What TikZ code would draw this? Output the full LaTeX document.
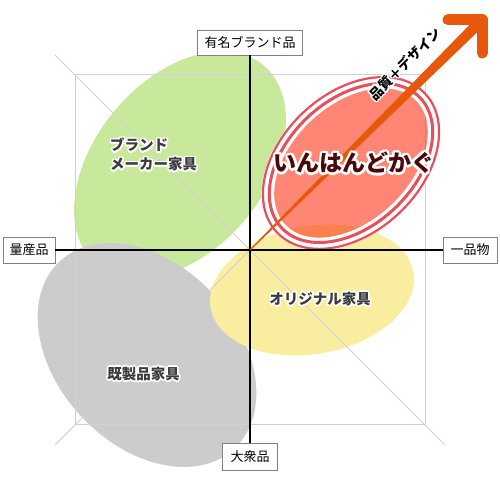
\documentclass[tikz,border=0pt]{standalone}
\usepackage{fontspec}
\setmainfont{Noto Sans CJK JP}
\usepackage{tikz}

\definecolor{brandgreen}{RGB}{200,233,156}
\definecolor{stockgray}{RGB}{204,204,204}
\definecolor{origyellow}{RGB}{249,238,160}
\definecolor{handred}{RGB}{255,60,30}
\definecolor{ringred}{RGB}{232,78,92}
\definecolor{arroworange}{RGB}{232,88,12}
\definecolor{guidegray}{RGB}{208,208,216}
\definecolor{boxgray}{RGB}{130,130,130}
\definecolor{txtgray}{RGB}{60,60,60}
\definecolor{titlered}{RGB}{72,10,10}

\begin{document}
\begin{tikzpicture}[x=1pt,y=1pt]
\tikzstyle{tag} = [draw=boxgray, fill=white, line width=0.8pt, inner sep=0pt, font=\fontsize{13}{13}\selectfont]
\tikzstyle{grp} = [inner sep=0pt, align=left, font=\fontsize{14.5}{19}\selectfont\bfseries]
\tikzstyle{title} = [inner sep=0pt, font=\fontsize{23}{23}\selectfont\bfseries]
\tikzstyle{claim} = [inner sep=0pt, rotate=45, font=\fontsize{13.5}{13.5}\selectfont\bfseries]
\tikzstyle{guide} = [draw=guidegray, line width=1pt]

\useasboundingbox (0,0) rectangle (500,500);

% market groups
\fill[brandgreen, rotate around={50:(180,335)}] (180,335) ellipse (130 and 85);
\fill[stockgray, rotate around={-47:(147,145)}] (147,145) ellipse (128 and 90);
\fill[origyellow, rotate around={10:(312,210)}] (312,210) ellipse (103 and 64);

% guide frame
\draw[guide] (75,75) rectangle (425,425);
\draw[guide] (55,55) -- (445,445) (55,445) -- (445,55);

% inhand kagu
\fill[white, even odd rule, rotate around={43:(351,337)}]
(351,337) ellipse (103 and 71) (351,337) ellipse (90 and 58);
\draw[ringred, line width=2.2pt, rotate around={43:(351,337)}] (351,337) ellipse (101.5 and 69.5);
\draw[ringred, line width=3pt, rotate around={43:(351,337)}] (351,337) ellipse (95 and 63);
\fill[handred, opacity=0.62, rotate around={43:(351,337)}] (351,337) ellipse (90 and 58);

% axes
\node[tag, minimum width=105pt, minimum height=25pt] (famous) at (250,457.5) {有名ブランド品};
\node[tag, minimum width=52pt, minimum height=26pt] (mass) at (29,250) {量産品};
\node[tag, minimum width=54pt, minimum height=26pt] (unique) at (470,250) {一品物};
\node[tag, minimum width=55pt, minimum height=27pt] (popular) at (250,43.5) {大衆品};
\draw[line width=1.2pt] (famous.south) -- (popular.north);
\draw[line width=1.2pt] (mass.east) -- (unique.west);

% quality arrow
\coordinate (o) at (250,250);
\coordinate (tip) at (482,480);
\fill[arroworange] (o) ++(-0.4,0.4) -- (478.1,483.9) -- (485.9,476.1) -- (250.4,249.6) -- cycle;
\draw[arroworange, line width=11pt, line cap=round, line join=round]
(448,480) -- (tip) -- (482,447);

% labels
\foreach \a in {0,30,...,330} {
\node[grp, text=white, anchor=west, shift={(\a:1.6)}] at (110,345.5) {ブランド\\メーカー家具};
\node[grp, text=white, shift={(\a:1.6)}] at (320,201) {オリジナル家具};
\node[grp, text=white, shift={(\a:1.6)}] at (143.5,126) {既製品家具};
\node[claim, text=white, shift={(\a:1.6)}] at (405,436) {品質＋デザイン};
\node[title, text=white, shift={(\a:2.4)}] at (354,337) {いんはんどかぐ};
\node[title, text=white, shift={(\a:1.2)}] at (354,337) {いんはんどかぐ};
}
\node[grp, text=txtgray, anchor=west] (brand) at (110,345.5) {ブランド\\メーカー家具};
\node[grp, text=txtgray] (original) at (320,201) {オリジナル家具};
\node[grp, text=txtgray] (stock) at (143.5,126) {既製品家具};
\node[claim, text=black] (quality) at (405,436) {品質＋デザイン};
\node[title, text=titlered] (inhand) at (354,337) {いんはんどかぐ};

\end{tikzpicture}
\end{document}
